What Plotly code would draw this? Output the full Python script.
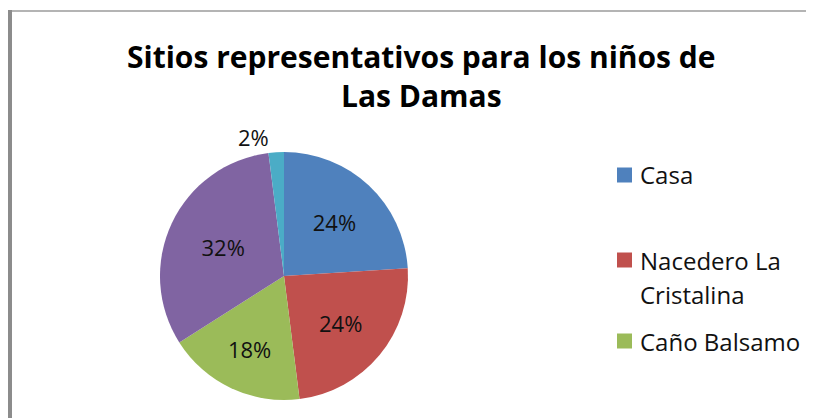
import plotly.graph_objects as go

# Data
labels = ["Casa", "Nacedero La Cristalina", "Caño Balsamo", "Otro sitio 1", "Otro sitio 2"]
values = [24, 24, 18, 32, 2]
colors = ["#4F81BD", "#C0504D", "#9BBB59", "#8064A2", "#4BACC6"]
legend_labels = ["Casa", "Nacedero La<br>Cristalina", "Caño Balsamo"]
title_text = "Sitios representativos para los niños de<br>Las Damas"

# page has an 8px body margin; work in screen pixels
OFF = 8
W, H = 806, 410
FONT = "Open Sans"


def px(x):
    return (x - OFF) / W


def py(y):
    return 1 - (y - OFF) / H


fig = go.Figure()

R = 124
CX, CY = 284, 276
fig.add_trace(go.Pie(
    labels=labels,
    values=values,
    sort=False,
    direction="clockwise",
    rotation=0,
    marker=dict(colors=colors, line=dict(width=0)),
    texttemplate="%{percent:.0%}",
    textposition=["inside", "inside", "inside", "inside", "outside"],
    insidetextorientation="horizontal",
    textfont=dict(family=FONT, size=22, color="#111111"),
    outsidetextfont=dict(family=FONT, size=22, color="#111111"),
    showlegend=False,
    domain=dict(x=[px(CX - R), px(CX + R)], y=[py(CY + R), py(CY - R)]),
    hoverinfo="label+percent",
))

# Chart border (top and left)
fig.add_shape(type="line", xref="paper", yref="paper",
              x0=px(9), x1=1, y0=py(11), y1=py(11),
              line=dict(color="#b4b4b4", width=2))
fig.add_shape(type="line", xref="paper", yref="paper",
              x0=px(10), x1=px(10), y0=0, y1=py(10),
              line=dict(color="#8c8c8c", width=4))

# Manual legend (only the entries visible in the original)
square_y = [175, 260, 341]
line_y = [[175], [260, 294], [341]]
for lab, col, sy, ly in zip(legend_labels, colors, square_y, line_y):
    fig.add_shape(type="rect", xref="paper", yref="paper",
                  x0=px(617), x1=px(632), y0=py(sy + 7.5), y1=py(sy - 7.5),
                  fillcolor=col, line=dict(width=0))
    for part, yy in zip(lab.split("<br>"), ly):
        fig.add_annotation(xref="paper", yref="paper", x=px(638), y=py(yy),
                           xanchor="left", yanchor="middle", align="left",
                           text=part, showarrow=False,
                           font=dict(family=FONT, size=24, color="#111111"))

# Title
fig.add_annotation(xref="paper", yref="paper", x=px(421), y=py(76),
                   xanchor="center", yanchor="middle", align="center",
                   text="<b>" + title_text + "</b>", showarrow=False,
                   font=dict(family=FONT, size=30, color="#000000"))

fig.update_layout(
    width=W, height=H,
    margin=dict(l=0, r=0, t=0, b=0),
    paper_bgcolor="white",
    plot_bgcolor="white",
)

fig.write_html("out.html")
